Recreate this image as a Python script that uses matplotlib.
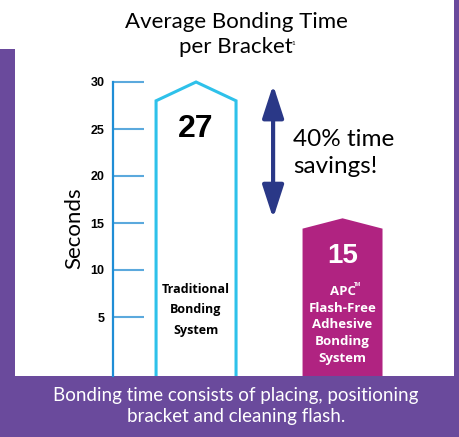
import matplotlib.pyplot as plt
from matplotlib.patches import Polygon, Rectangle, FancyArrowPatch

# data
systems = ["Traditional\nBonding\nSystem", "APC\nFlash-Free\nAdhesive\nBonding\nSystem"]
seconds = [27, 15]
bar_peak = [30, 15.5]       # apex of the house shaped bars
bar_shoulder = [28, 14.4]   # where the roof starts
yticks = [5, 10, 15, 20, 25, 30]
savings_text = "40% time\nsavings!"
title_lines = ["Average Bonding Time", "per Bracket"]
footnote = "Bonding time consists of placing, positioning\nbracket and cleaning flash."

purple = "#6A4A9C"
cyan = "#2EC1EA"
pink = "#B02381"
navy = "#2A3887"

W, H = 459, 437
fig = plt.figure(figsize=(W / 100, H / 100), dpi=100, facecolor=purple)

# white panel + the small white corner top left
fig.patches.append(Rectangle((15 / W, 61 / H), 439 / W, 1 - 61 / H, transform=fig.transFigure,
                             facecolor="white", edgecolor="none", zorder=-5))
fig.patches.append(Rectangle((0, 1 - 49 / H), 15 / W, 49 / H, transform=fig.transFigure,
                             facecolor="white", edgecolor="none", zorder=-5))

ax = fig.add_axes([113 / W, 61 / H, (454 - 113) / W, (376 - 52) / H])
ax.set_facecolor("none")
ax.set_xlim(-0.567, 1.761)
ax.set_ylim(-12 / 9.4, 30 + 30 / 9.4)

for s in ["top", "right", "bottom"]:
    ax.spines[s].set_visible(False)
ax.spines["left"].set_color("#1F8ED6")
ax.spines["left"].set_linewidth(1.6)
ax.spines["left"].set_bounds(-12 / 9.4, 30)
ax.set_xticks([])
ax.set_yticks(yticks)
ax.set_yticklabels([str(t) for t in yticks], fontsize=9, fontweight="bold",
                   family="Liberation Sans")
ax.tick_params(axis="y", direction="in", length=22, width=1.5, color="#5BA9DD", pad=6)
ax.set_ylabel("Seconds", fontsize=16, family="Lato")
ax.yaxis.set_label_coords(-0.085, 0.457)

w = 0.546
bottom = -3
for i in range(len(seconds)):
    pts = [(i - w / 2, bottom), (i - w / 2, bar_shoulder[i]), (i, bar_peak[i]),
           (i + w / 2, bar_shoulder[i]), (i + w / 2, bottom)]
    if i == 0:
        ax.add_patch(Polygon(pts, closed=False, facecolor="white", edgecolor=cyan, lw=2.2,
                             joinstyle="miter"))
        ax.text(i, bar_shoulder[i] - 3.0, str(seconds[i]), ha="center", va="center",
                color="black", fontsize=23, fontweight="bold", family="Liberation Sans")
    else:
        ax.add_patch(Polygon(pts, closed=True, facecolor=pink, edgecolor="none"))
        ax.text(i, bar_shoulder[i] - 2.9, str(seconds[i]), ha="center", va="center",
                color="white", fontsize=20, fontweight="bold", family="Liberation Sans")

ax.text(0, 5.75, systems[0], ha="center", va="center", fontsize=9, fontweight="bold",
        family="Open Sans", linespacing=1.75)
ax.text(1, 4.15, systems[1], ha="center", va="center", fontsize=9.5, fontweight="bold",
        family="Open Sans", color="white", linespacing=1.36)
# small trademark sign after "APC"
ax.annotate("TM", xy=(1, 4.15), xytext=(8.5, 27.5), textcoords="offset points", fontsize=3.5,
            fontweight="bold", color="white", family="Open Sans", ha="left", va="bottom")

arr = FancyArrowPatch((0.526, 15.5), (0.526, 29.7), arrowstyle="<|-|>,head_length=20,head_width=6.5",
                      mutation_scale=1, lw=3.0, color=navy, shrinkA=0, shrinkB=0)
ax.add_patch(arr)
ax.text(0.66, 22.4, savings_text, ha="left", va="center", fontsize=17.5, family="Lato",
        linespacing=1.35)

fig.text(236 / W, 1 - 22 / H, title_lines[0], ha="center", va="center", fontsize=16, family="Lato")
fig.text(236 / W, 1 - 47 / H, title_lines[1], ha="center", va="center", fontsize=16, family="Lato")
fig.text(291.5 / W, 1 - 41 / H, "1", fontsize=4.5, family="Lato", va="top")
fig.text(236 / W, 1 - 406 / H, footnote, ha="center", va="center", fontsize=13.5, family="Lato",
         color="white", linespacing=1.25)

fig.savefig("out.png", dpi=100, facecolor=purple)
